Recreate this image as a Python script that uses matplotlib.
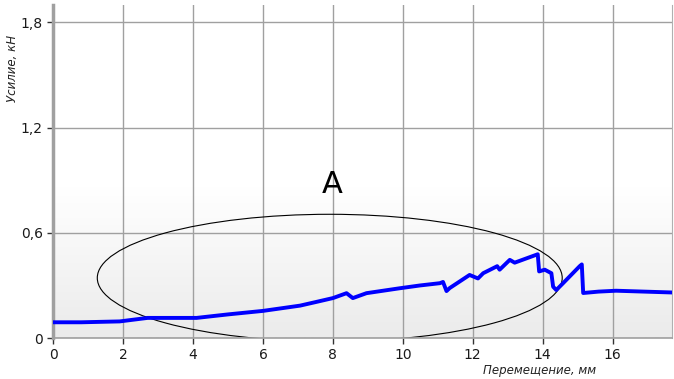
import numpy as np
import matplotlib
matplotlib.use("Agg")
import matplotlib.pyplot as plt
from matplotlib.patches import Ellipse
from matplotlib.colors import LinearSegmentedColormap

# Data
disp_mm = [0, 0.8, 1.9, 2.7, 4.1, 5.0, 6.0, 7.06, 7.5, 8.0, 8.39, 8.57, 8.96,
           9.91, 10.49, 11.06, 11.15, 11.25, 11.34, 11.91, 12.15, 12.3, 12.7, 12.77,
           13.06, 13.2, 13.86, 13.9, 14.06, 14.25, 14.3, 14.39, 14.57, 15.06, 15.12,
           15.16, 15.6, 16.1, 17.7]
force_kn = [0.09, 0.09, 0.095, 0.115, 0.115, 0.135, 0.155, 0.185, 0.205, 0.228, 0.256,
            0.228, 0.256, 0.284, 0.30, 0.313, 0.32, 0.268, 0.285, 0.36, 0.34, 0.37,
            0.41, 0.39, 0.446, 0.43, 0.478, 0.38, 0.39, 0.37, 0.293, 0.274, 0.31,
            0.41, 0.42, 0.257, 0.265, 0.27, 0.26]
x_ticks = [0, 2, 4, 6, 8, 10, 12, 14, 16]
y_ticks = [0, 0.6, 1.2, 1.8]
y_tick_labels = ["0", "0,6", "1,2", "1,8"]

fig = plt.figure(figsize=(6.74, 3.79), dpi=100)
ax = fig.add_axes([0.079, 0.108, 0.918, 0.879])
ax.set_xlim(0, 17.7)
ax.set_ylim(0, 1.9)

# gradient background
grad = np.linspace(0, 1, 256).reshape(-1, 1)
grad = np.clip(grad / 0.45, 0, 1)
cmap = LinearSegmentedColormap.from_list("bg", ["#ebebeb", "#ffffff"])
ax.imshow(grad, extent=[0, 17.7, 0, 1.9], origin="lower", aspect="auto",
          cmap=cmap, zorder=0)

ax.set_xticks(x_ticks)
ax.set_yticks(y_ticks)
ax.set_yticklabels(y_tick_labels)
ax.grid(True, color="#a0a0a0", linewidth=1.0, zorder=1)
ax.set_axisbelow(True)

ax.spines["top"].set_visible(False)
ax.spines["right"].set_color("#b0b0b0")
ax.spines["bottom"].set_color("#a0a0a0")
ax.spines["bottom"].set_linewidth(1.2)
ax.spines["left"].set_color("#a0a0a0")
ax.spines["left"].set_linewidth(2.5)
ax.tick_params(axis="both", colors="#333333", labelcolor="#1a1a1a",
               labelsize=10, length=4, width=1)

ell = Ellipse((7.91, 0.343), 13.3, 0.726, fill=False, edgecolor="black",
              linewidth=0.8, zorder=2)
ax.add_patch(ell)

ax.plot(disp_mm, force_kn, color="#0000ff", linewidth=2.8, zorder=3,
        solid_joinstyle="round")

ax.text(7.97, 0.874, "A", fontsize=22, ha="center", va="center", color="black",
        zorder=4)

fig.text(0.018, 0.82, "Усилие, кН", rotation=90, fontsize=8.5, style="italic",
         ha="center", va="center", color="#222222")
fig.text(0.885, 0.022, "Перемещение, мм", fontsize=8.5, style="italic",
         ha="right", va="center", color="#222222")

fig.savefig("out.png", dpi=100)
